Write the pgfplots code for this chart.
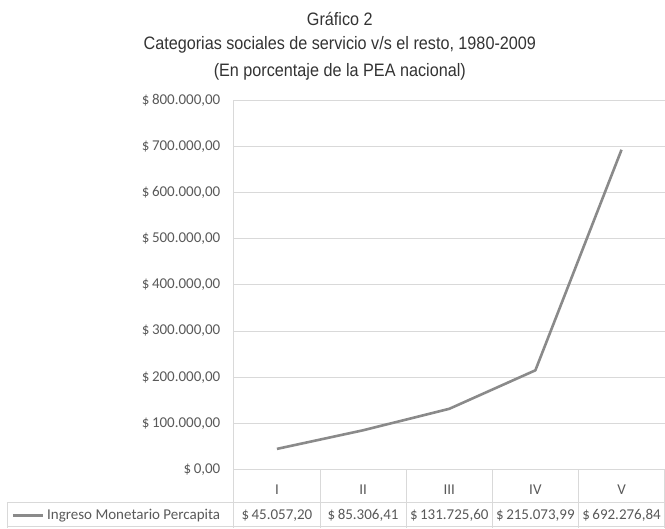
\documentclass[border=0pt]{standalone}
\usepackage{pgfplots}
\pgfplotsset{compat=1.18}
\usepackage{fontspec}
\setmainfont{Carlito}
\newfontfamily\titlefont[FakeStretch=0.9]{Liberation Sans}
\definecolor{gridgray}{HTML}{D9D9D9}
\definecolor{linegray}{HTML}{8A8A8A}
\definecolor{txtgray}{HTML}{595959}
\definecolor{titlegray}{HTML}{333333}

\begin{document}
\begin{tikzpicture}
\begin{axis}[
    at={(0,0)}, anchor=south west,
    scale only axis,
    width=431pt, height=370pt,
    xmin=0.5, xmax=5.5,
    ymin=0, ymax=800000,
    clip=false,
    scaled y ticks=false,
    axis x line=bottom, axis y line=left,
    axis line style={gridgray, line width=0.8pt, -},
    ymajorgrids,
    grid style={gridgray, line width=0.8pt},
    major tick length=0pt,
    ytick={0,100000,200000,300000,400000,500000,600000,700000,800000},
    yticklabels={{\$\,0,00},{\$\,100.000,00},{\$\,200.000,00},{\$\,300.000,00},
                 {\$\,400.000,00},{\$\,500.000,00},{\$\,600.000,00},{\$\,700.000,00},
                 {\$\,800.000,00}},
    yticklabel style={font=\fontsize{15}{15}\selectfont, color=txtgray, anchor=east, xshift=-10pt},
    xtick={1,2,3,4,5},
    xticklabels={I,II,III,IV,V},
    xticklabel style={font=\fontsize{15}{15}\selectfont, color=txtgray, anchor=center, yshift=-20pt},
]
% Ingreso Monetario Percapita
\addplot[color=linegray, line width=2.6pt, line join=round] coordinates {
    (1,45057.20) (2,85306.41) (3,131725.60) (4,215073.99) (5,692276.84)
};
\end{axis}

% data table below the axis
\begin{scope}[gridgray, line width=0.8pt]
  \draw (-227pt,-33pt) -- (431pt,-33pt);
  \draw (-227pt,-57pt) -- (431pt,-57pt);
  \draw (-227pt,-33pt) -- (-227pt,-58pt);
  \foreach \i in {0,1,2,3,4,5} {
    \draw (\i*86.2pt,0pt) -- (\i*86.2pt,-58pt);
  }
\end{scope}
\draw[linegray, line width=2.6pt] (-221pt,-46pt) -- (-191pt,-46pt);
\node[anchor=west, inner sep=0pt, text=txtgray, font=\fontsize{15}{15}\selectfont] at (-187pt,-46pt) {Ingreso Monetario Percapita};
\begin{scope}[every node/.style={inner sep=0pt, text=txtgray, font=\fontsize{15}{15}\selectfont}]
  \node at (43.1pt,-46pt) {\$\,45.057,20};
  \node at (129.3pt,-46pt) {\$\,85.306,41};
  \node at (215.5pt,-46pt) {\$\,131.725,60};
  \node at (301.7pt,-46pt) {\$\,215.073,99};
  \node at (387.9pt,-46pt) {\$\,692.276,84};
\end{scope}

% title
\begin{scope}[every node/.style={inner sep=0pt, text=titlegray, font=\titlefont\fontsize{18}{18}\selectfont}]
  \node at (106pt,451pt) {Gráfico 2};
  \node at (106pt,425pt) {Categorias sociales de servicio v/s el resto, 1980-2009};
  \node at (106pt,398pt) {(En porcentaje de la PEA nacional)};
\end{scope}

\path[use as bounding box] (-234pt,-58pt) rectangle (431pt,470pt);
\end{tikzpicture}
\end{document}
